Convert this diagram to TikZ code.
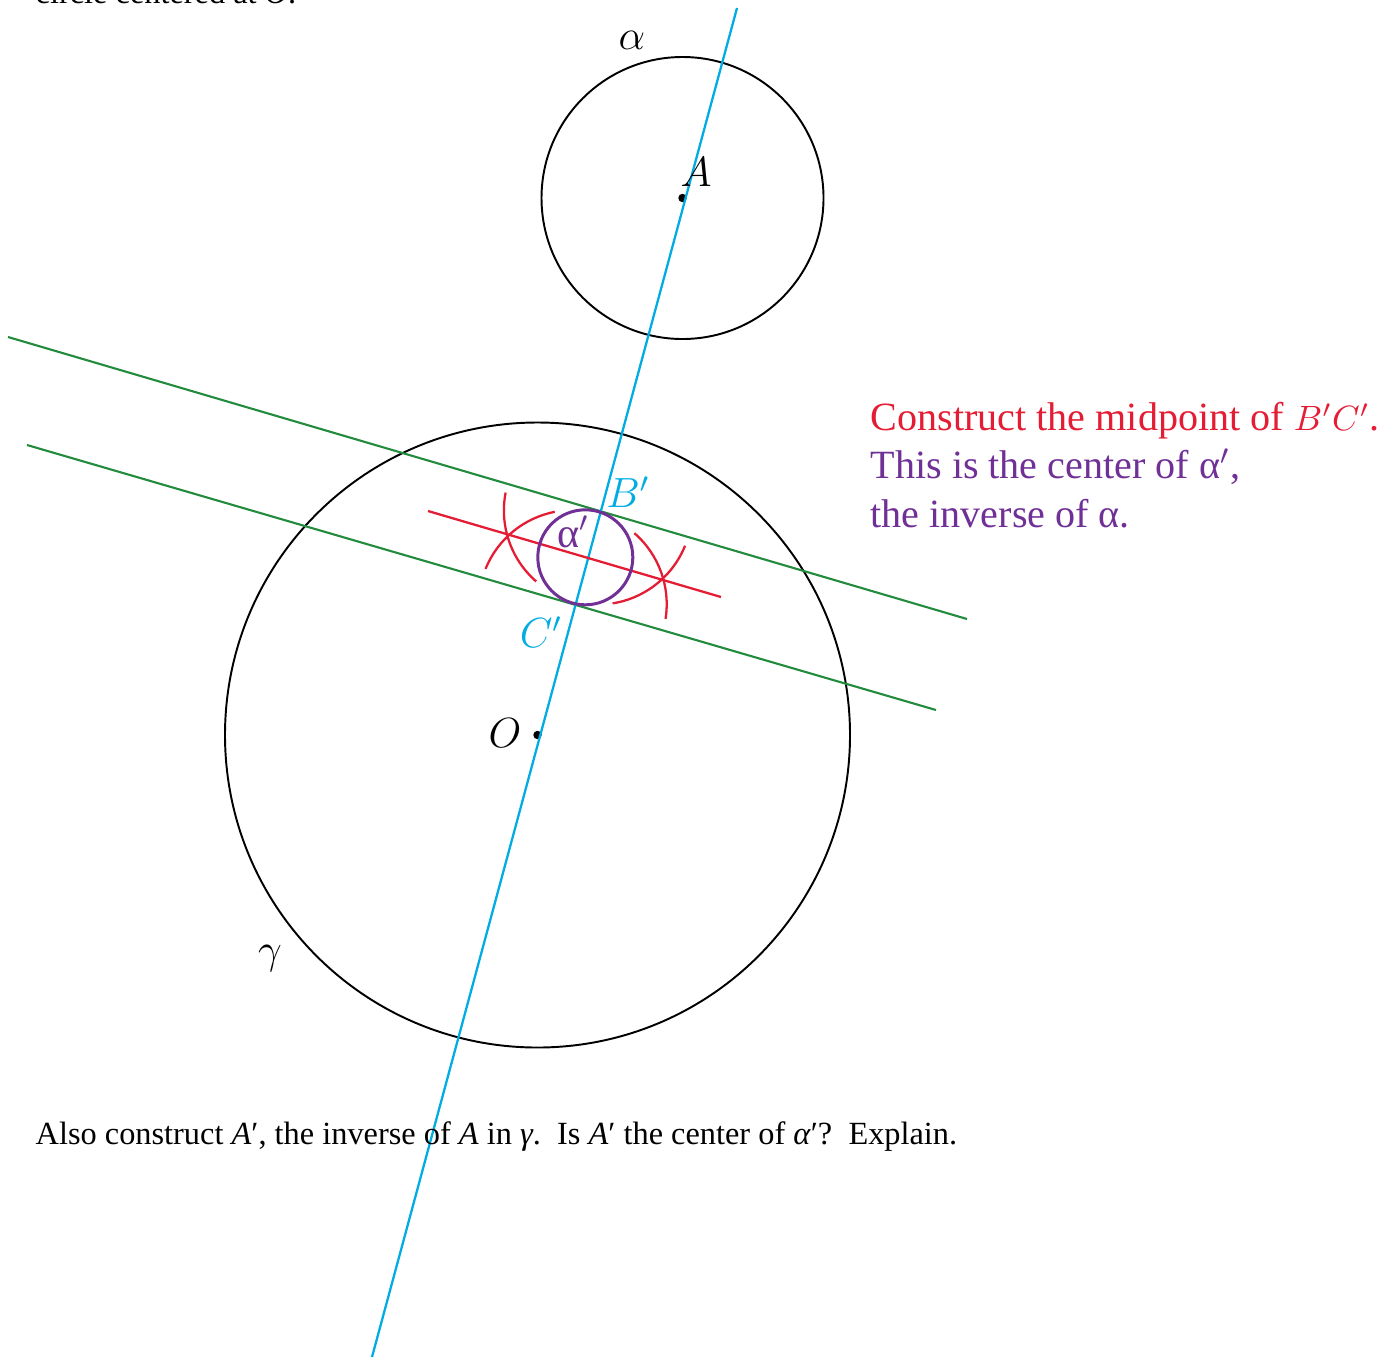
\documentclass[tikz,border=0pt]{standalone}
\usepackage{fontspec}
\setmainfont{Liberation Serif}
\usetikzlibrary{calc}
\definecolor{lineblue}{RGB}{0,172,226}
\definecolor{darkgreen}{RGB}{34,139,62}
\definecolor{myred}{RGB}{228,28,52}
\definecolor{mypurple}{RGB}{112,48,150}

\begin{document}
\begin{tikzpicture}[x=0.01cm, y=-0.01cm,
  lbl/.style={font=\fontsize{12}{14}\selectfont, inner sep=0pt},
  txt/.style={font=\fontsize{11.4}{14}\selectfont, inner sep=0pt, anchor=base west},
  qtxt/.style={font=\fontsize{9.2}{11}\selectfont, inner sep=0pt, anchor=base west},
  greenline/.style={darkgreen, line width=0.6pt},
  compass/.style={myred, line width=0.65pt}]
  \useasboundingbox (0,0) rectangle (1392,1357);
  \clip (0,0) rectangle (1392,1357);
  % points
  \coordinate (O) at (537.5,735);
  \coordinate (A) at (682.5,198);
  \coordinate (Bp) at (597.9,510.5);
  \coordinate (Cp) at (572.7,604.1);
  \coordinate (M) at ($(Bp)!0.5!(Cp)$);
  % circles gamma and alpha
  \draw[line width=0.55pt] (O) circle[radius=312.5];
  \draw[line width=0.55pt] (A) circle[radius=141];
  \fill (O) circle[radius=4.2];
  \fill (A) circle[radius=4.2];
  % parallel lines
  \coordinate (g1a) at (8,337);
  \coordinate (g1b) at (967,619);
  \coordinate (g2a) at (27,445);
  \coordinate (g2b) at (936,710);
  \draw[greenline] (g1a) -- (g1b);
  \draw[greenline] (g2a) -- (g2b);
  % line through O and A
  \coordinate (l1) at (737,8);
  \coordinate (l2) at (372,1357);
  \draw[lineblue, line width=0.65pt] (l1) -- (l2);
  % perpendicular bisector of B'C'
  \draw[compass] (Bp) ++(131:94) arc[start angle=131, end angle=191, radius=94];
  \draw[compass] (Cp) ++(202:94) arc[start angle=202, end angle=259, radius=94];
  \draw[compass] (Cp) ++(-49:94) arc[start angle=-49, end angle=9, radius=94];
  \draw[compass] (Bp) ++(22:94) arc[start angle=22, end angle=81, radius=94];
  \coordinate (r1) at (428,511);
  \coordinate (r2) at (721,597);
  \draw[compass] (r1) -- (r2);
  % inverse circle
  \draw[mypurple, line width=0.85pt] (M) circle[radius=47.5];
  % labels
  \node[lbl] (alab) at (632,40) {$\alpha$};
  \node[lbl] (Alab) at (696,172) {$A$};
  \node[lbl] (Olab) at (505,733) {$O$};
  \node[lbl, font=\fontsize{13}{15}\selectfont] (glab) at (270,958) {$\gamma$};
  \node[lbl, lineblue] (Bplab) at (628,492) {$B'$};
  \node[lbl, lineblue] (Cplab) at (541,632) {$C'$};
  \node[lbl, mypurple] (aplab) at (573,532) {α$'$};
  % texts
  \node[txt, myred] (t1) at (870,430) {Construct the midpoint of {\fontsize{10}{12}\selectfont$B'C'$}.};
  \node[txt, mypurple] (t2) at (870,478) {This is the center of α$'$,};
  \node[txt, mypurple] (t3) at (870,527) {the inverse of α.};
  \node[qtxt] (q0) at (35,3) {circle centered at \textit{O}.};
  \node[qtxt] (q1) at (35,1144) {Also construct \textit{A}′, the inverse of \textit{A} in \textit{γ}.\ \ Is \textit{A}′ the center of \textit{α}′?\ \ Explain.};
\end{tikzpicture}
\end{document}
